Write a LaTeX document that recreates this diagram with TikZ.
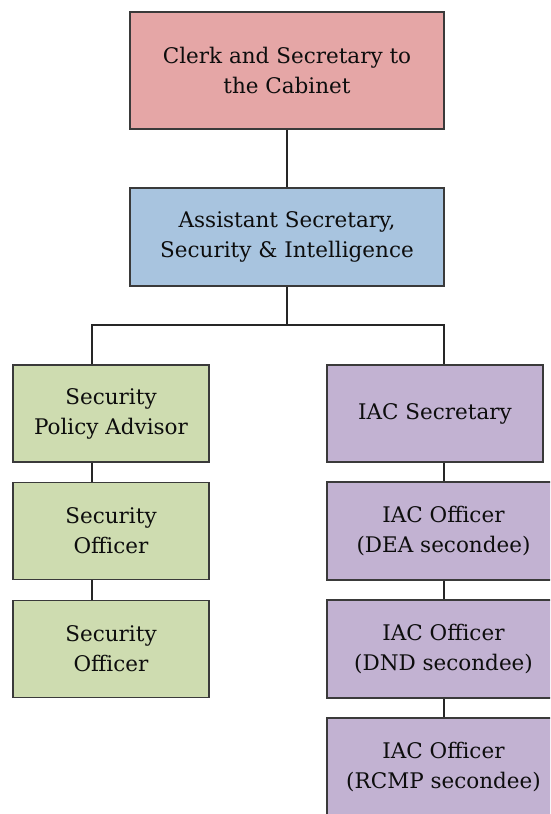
\documentclass[tikz,border=0pt]{standalone}
\usepackage{fontspec}
\setmainfont{DejaVu Serif}
\definecolor{clerkred}{HTML}{E5A6A6}
\definecolor{asstblue}{HTML}{A8C4DF}
\definecolor{secgreen}{HTML}{CEDCB0}
\definecolor{iacpurple}{HTML}{C2B2D2}
\definecolor{edgegray}{HTML}{3A3A3A}
\begin{document}
\begin{tikzpicture}[x=1pt, y=-1pt,
    box/.style={draw=edgegray, line width=1.6pt, inner sep=0pt, align=center,
      font=\fontsize{21.5}{30}\selectfont, text=black!95},
    wide/.style={box, minimum width=314pt},
    smallbox/.style={box, minimum width=196pt, minimum height=97pt},
    link/.style={draw=black!85, line width=1.6pt}]
  \useasboundingbox (0, 0) rectangle (550, 814);
  \clip (0, 0) rectangle (550, 814);

  \node[wide, fill=clerkred, minimum height=117pt] (clerk) at (287, 70.5)
    {Clerk and Secretary to\\the Cabinet};
  \node[wide, fill=asstblue, minimum height=98pt] (asst) at (287, 237)
    {Assistant Secretary,\\Security \& Intelligence};

  \node[smallbox, fill=secgreen] (policy) at (111, 413.5) {Security\\Policy Advisor};
  \node[smallbox, fill=secgreen] (officera) at (111, 531) {Security\\Officer};
  \node[smallbox, fill=secgreen] (officerb) at (111, 649) {Security\\Officer};

  \node[box, fill=iacpurple, minimum width=216pt, minimum height=97pt] (iacsec) at (435, 413.5) {IAC Secretary};
  \node[box, fill=iacpurple, minimum width=233pt, minimum height=98pt] (dea) at (443.5, 531) {IAC Officer\\(DEA secondee)};
  \node[box, fill=iacpurple, minimum width=233pt, minimum height=98pt] (dnd) at (443.5, 649) {IAC Officer\\(DND secondee)};
  \node[box, fill=iacpurple, minimum width=233pt, minimum height=98pt] (rcmp) at (443.5, 767) {IAC Officer\\(RCMP secondee)};

  % branch points
  \coordinate (lbus) at (92, 325);
  \coordinate (rbus) at (444, 325);

  \draw[link] (clerk) -- (asst);
  \draw[link] (asst.south) -- (asst.south |- lbus);
  \draw[link] (lbus |- policy.north) -- (lbus) -- (rbus) -- (rbus |- iacsec.north);
  \draw[link] (lbus |- policy.south) -- (lbus |- officera.north);
  \draw[link] (lbus |- officera.south) -- (lbus |- officerb.north);
  \draw[link] (rbus |- iacsec.south) -- (rbus |- dea.north);
  \draw[link] (rbus |- dea.south) -- (rbus |- dnd.north);
  \draw[link] (rbus |- dnd.south) -- (rbus |- rcmp.north);
\end{tikzpicture}
\end{document}
